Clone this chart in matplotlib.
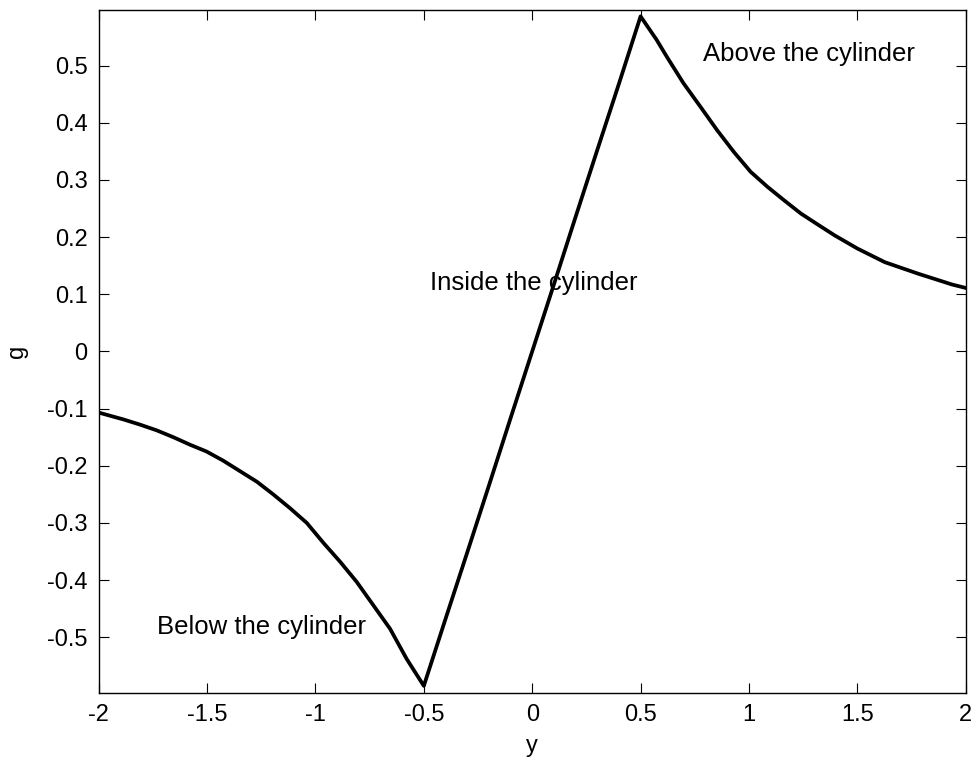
import matplotlib
matplotlib.use("Agg")
import matplotlib.pyplot as plt

# gravity profile across the cylinder
y_below = [-2.0, -1.886, -1.81, -1.733, -1.656, -1.58, -1.503, -1.426, -1.35, -1.27,
           -1.195, -1.118, -1.04, -0.963, -0.886, -0.81, -0.733, -0.656, -0.579, -0.5]
g_below = [-0.107, -0.119, -0.128, -0.138, -0.150, -0.163, -0.175, -0.191, -0.209, -0.228,
           -0.250, -0.274, -0.300, -0.335, -0.368, -0.403, -0.444, -0.485, -0.538, -0.585]

y_inside = [-0.4, -0.3, -0.2, -0.1, 0.0, 0.1, 0.2, 0.3, 0.4]
g_inside = [-0.468, -0.352, -0.235, -0.117, 0.0, 0.117, 0.235, 0.352, 0.468]

y_above = [0.5, 0.574, 0.62, 0.698, 0.776, 0.853, 0.93, 1.008, 1.085, 1.163,
           1.24, 1.317, 1.395, 1.5, 1.627, 1.78, 1.937, 2.0]
g_above = [0.586, 0.545, 0.516, 0.469, 0.428, 0.387, 0.349, 0.314, 0.288, 0.264,
           0.241, 0.222, 0.203, 0.180, 0.156, 0.136, 0.117, 0.111]

y = y_below + y_inside + y_above
g = g_below + g_inside + g_above

plt.rcParams['font.family'] = ['Liberation Sans', 'DejaVu Sans']
plt.rcParams['font.size'] = 17

fig = plt.figure(figsize=(9.77, 7.65), dpi=100)
ax = fig.add_axes([98.7 / 977, 1 - 693.3 / 765, (965.7 - 98.7) / 977, (693.3 - 9.5) / 765])

ax.plot(y, g, color='black', linewidth=2.7)

ax.set_xlim(-2, 2)
ax.set_ylim(-0.598, 0.598)
ax.set_xticks([-2, -1.5, -1, -0.5, 0, 0.5, 1, 1.5, 2])
ax.set_xticklabels(['-2', '-1.5', '-1', '-0.5', '0', '0.5', '1', '1.5', '2'])
ax.set_yticks([-0.5, -0.4, -0.3, -0.2, -0.1, 0, 0.1, 0.2, 0.3, 0.4, 0.5])
ax.set_yticklabels(['-0.5', '-0.4', '-0.3', '-0.2', '-0.1', '0', '0.1', '0.2', '0.3', '0.4', '0.5'])
ax.tick_params(direction='in', length=7, width=0.8, top=True, right=True, pad=8)
for s in ax.spines.values():
    s.set_linewidth(1.0)

ax.set_xlabel('y', labelpad=6)
ax.set_ylabel('g', labelpad=14)

ax.text(0.79, 0.52, 'Above the cylinder', va='center', ha='left', fontsize=18.5)
ax.text(-0.47, 0.12, 'Inside the cylinder', va='center', ha='left', fontsize=18.5)
ax.text(-1.73, -0.482, 'Below the cylinder', va='center', ha='left', fontsize=18.5)

fig.savefig('out.png', dpi=100)
